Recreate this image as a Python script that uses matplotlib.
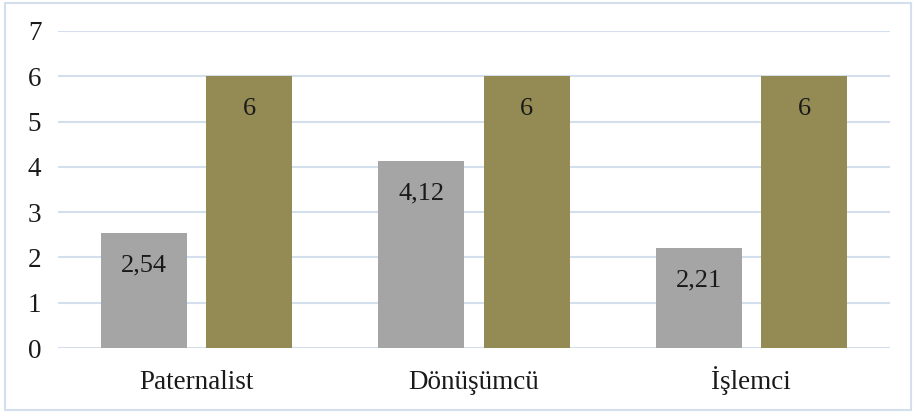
import matplotlib
matplotlib.use("Agg")
from matplotlib import pyplot as plt
from matplotlib.patches import Rectangle
import numpy as np

kategoriler = ["Paternalist", "Dönüşümcü", "İşlemci"]
seri1 = [2.54, 4.12, 2.21]
seri2 = [6, 6, 6]
etiket1 = ["2,54", "4,12", "2,21"]
etiket2 = ["6", "6", "6"]

plt.rcParams['font.family'] = ['Liberation Serif', 'DejaVu Serif']

fig = plt.figure(figsize=(9.17, 4.13), dpi=100)
ax = fig.add_axes([58 / 917, 1 - 348 / 413, 832 / 917, 317 / 413])

# cerceve
fig.patches.append(Rectangle((5 / 917, 3 / 413), 906 / 917, 407 / 413,
                             transform=fig.transFigure, fill=False,
                             edgecolor='#D4DFEE', linewidth=1.5))

x = np.arange(len(kategoriler))
w = 0.31
b1 = ax.bar(x - 0.19, seri1, w, color='#A5A5A5', zorder=3)
b2 = ax.bar(x + 0.19, seri2, w, color='#948A54', zorder=3)

for bars, labels in ((b1, etiket1), (b2, etiket2)):
    for r, t in zip(bars, labels):
        ax.annotate(t, (r.get_x() + r.get_width() / 2, r.get_height()),
                    xytext=(0, -15.5), textcoords='offset points',
                    ha='center', va='top', fontsize=19, color='#1a1a1a')

ax.set_xlim(-0.5, 2.5)
ax.set_ylim(0, 7)
ax.set_yticks(range(8))
ax.set_xticks(x)
ax.set_xticklabels(kategoriler)
ax.tick_params(axis='both', length=0, labelsize=19.5, colors='#1a1a1a')
ax.tick_params(axis='y', pad=12)
ax.tick_params(axis='x', pad=29.5)
for lbl in ax.get_xticklabels():
    lbl.set_va('baseline')
ax.grid(axis='y', color='#D4DFEE', linewidth=1.5, zorder=0)
for s in ax.spines.values():
    s.set_visible(False)

fig.savefig("out.png", dpi=100)
